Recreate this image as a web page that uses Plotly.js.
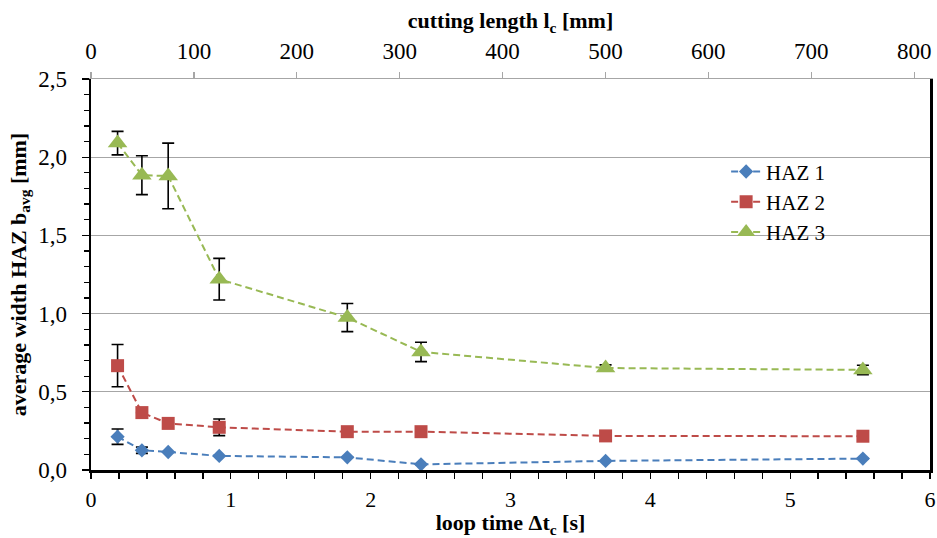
<!DOCTYPE html>
<html>
<head>
<meta charset="utf-8">
<script src="https://cdn.plot.ly/plotly-3.0.1.min.js"></script>
<style>html,body{margin:0;padding:0;background:#fff;}#chart{width:937px;height:538px;}</style>
</head>
<body>
<div id="chart"></div>
<script>
// loop time Δt_c [s]
const loopTime = [0.19, 0.364, 0.552, 0.917, 1.833, 2.36, 3.68, 5.52];
const seriesNames = ["HAZ 1", "HAZ 2", "HAZ 3"];
const haz1 = [0.213, 0.126, 0.115, 0.090, 0.081, 0.036, 0.058, 0.073];
const haz1Err = [0.049, 0.020, 0, 0, 0, 0, 0, 0];
const haz2 = [0.667, 0.367, 0.298, 0.273, 0.245, 0.245, 0.218, 0.216];
const haz2Err = [0.135, 0, 0, 0.053, 0, 0, 0, 0];
const haz3 = [2.090, 1.885, 1.880, 1.220, 0.975, 0.755, 0.652, 0.640];
const haz3Err = [0.075, 0.124, 0.210, 0.133, 0.090, 0.062, 0.020, 0.030];
const yTicks = [0, 0.5, 1.0, 1.5, 2.0, 2.5];
const xTicks = [0, 1, 2, 3, 4, 5, 6];
const topTicks = [0, 100, 200, 300, 400, 500, 600, 700, 800];

const FONT = "'Liberation Serif', 'DejaVu Serif', serif";
const TICK = 23;
const colors = ["#4a7ebb", "#be4b48", "#98b954"];
const symbols = ["diamond", "square", "triangle-up"];
const sizes = [11, 13, 17];
const vals = [haz1, haz2, haz3];
const errs = [haz1Err, haz2Err, haz3Err];

const traces = vals.map((v, i) => ({
  x: loopTime, y: v, name: seriesNames[i], type: "scatter", mode: "lines+markers",
  line: {color: colors[i], width: 2, dash: "7px,4px"},
  marker: {symbol: symbols[i], size: sizes[i], color: colors[i]},
  error_y: {type: "data", array: errs[i], visible: true, color: "#000", thickness: 1.6, width: 6},
  xaxis: "x", yaxis: "y"
}));
traces.push({x: [], y: [], xaxis: "x2", yaxis: "y", showlegend: false, type: "scatter", mode: "markers"});

const layout = {
  width: 937, height: 538,
  margin: {l: 91, r: 7, t: 79, b: 68},
  paper_bgcolor: "#fff", plot_bgcolor: "#fff",
  separators: ",.",
  font: {family: FONT, size: TICK, color: "#000"},
  showlegend: true,
  legend: {x: 0.757, y: 0.815, xanchor: "left", yanchor: "top", bgcolor: "rgba(0,0,0,0)",
           font: {family: FONT, size: 21, color: "#000"}, tracegroupgap: 0},
  xaxis: {
    range: [0, 6], tickvals: xTicks, ticktext: xTicks.map(String),
    showgrid: false, zeroline: false,
    showline: true, linecolor: "#000", linewidth: 2.5,
    ticks: "outside", ticklen: 6, tickwidth: 1.3, tickcolor: "#000",
    minor: {dtick: 0.2, ticks: "outside", ticklen: 6, tickwidth: 1.3, tickcolor: "#000", showgrid: false},
    tickfont: {family: FONT, size: 22}, ticklabelstandoff: 2,
    title: {text: "<b>loop time Δt<sub>c</sub> [s]</b>", font: {family: FONT, size: 22}, standoff: 4},
    automargin: false
  },
  xaxis2: {
    overlaying: "x", side: "top", anchor: "y",
    range: [0, 815.4], tickvals: topTicks, ticktext: topTicks.map(String),
    showgrid: false, zeroline: false,
    showline: true, linecolor: "#a6a6a6", linewidth: 1.5,
    ticks: "outside", ticklen: 6, tickwidth: 1.3, tickcolor: "#a6a6a6",
    tickfont: {family: FONT, size: TICK}, ticklabelstandoff: 3,
    title: {text: "<b>cutting length l<sub>c</sub> [mm]</b>", font: {family: FONT, size: 22}, standoff: 4},
    automargin: false
  },
  yaxis: {
    range: [0, 2.5], tickvals: yTicks, tickformat: ".1f",
    showgrid: true, gridcolor: "#a6a6a6", gridwidth: 1.3, zeroline: false,
    showline: true, linecolor: "#000", linewidth: 2.5, mirror: true,
    ticks: "outside", ticklen: 7, tickwidth: 1.3, tickcolor: "#000",
    minor: {dtick: 0.1, ticks: "outside", ticklen: 5, tickwidth: 1.3, tickcolor: "#000", showgrid: false},
    tickfont: {family: FONT, size: TICK}, ticklabelstandoff: 10,
    title: {text: "<b>average width HAZ b<sub>avg</sub> [mm]</b>", font: {family: FONT, size: 22}, standoff: 6},
    automargin: false
  }
};

Plotly.newPlot("chart", traces, layout, {displayModeBar: false, staticPlot: true});
</script>
</body>
</html>
